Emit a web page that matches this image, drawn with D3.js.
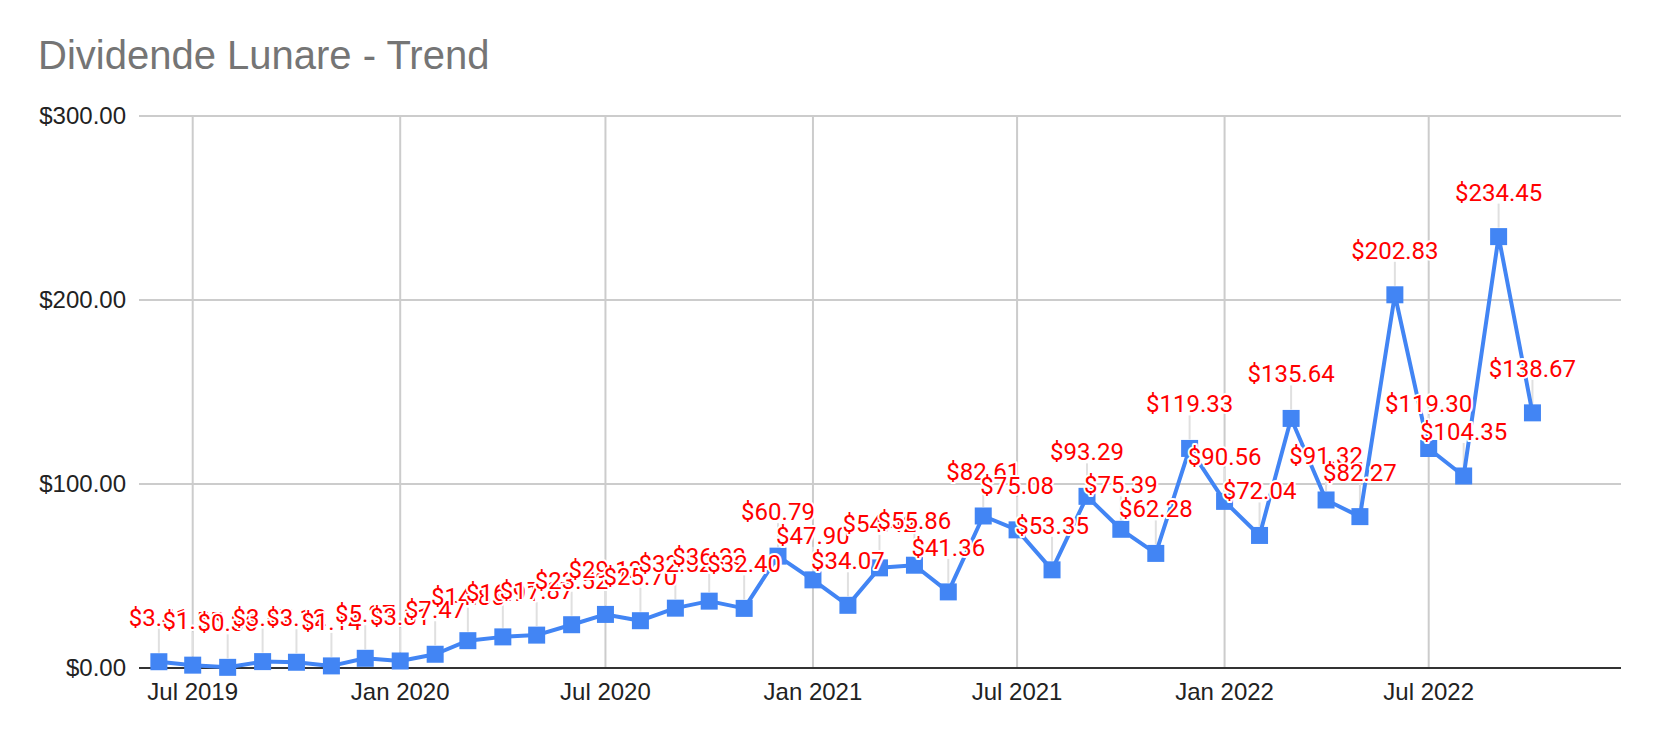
<!DOCTYPE html>
<html><head><meta charset="utf-8">
<script src="https://cdn.jsdelivr.net/npm/d3@7"></script>
<style>html,body{margin:0;padding:0;background:#fff;} svg{display:block}</style>
</head><body>
<svg id="chart" width="1658" height="742"></svg>
<script>
const chartTitle = "Dividende Lunare - Trend";
const months = ["2019-06","2019-07","2019-08","2019-09","2019-10","2019-11","2019-12",
  "2020-01","2020-02","2020-03","2020-04","2020-05","2020-06","2020-07","2020-08","2020-09","2020-10","2020-11","2020-12",
  "2021-01","2021-02","2021-03","2021-04","2021-05","2021-06","2021-07","2021-08","2021-09","2021-10","2021-11","2021-12",
  "2022-01","2022-02","2022-03","2022-04","2022-05","2022-06","2022-07","2022-08","2022-09","2022-10"];
const dividends = [3.41,1.55,0.36,3.47,3.12,1.14,5.27,
  3.81,7.47,14.85,16.91,17.87,23.52,29.12,25.70,32.52,36.33,32.40,60.79,
  47.90,34.07,54.42,55.86,41.36,82.61,75.08,53.35,93.29,75.39,62.28,119.33,
  90.56,72.04,135.64,91.32,82.27,202.83,119.30,104.35,234.45,138.67];
const yTickValues = [0,100,200,300];
const xTickMonths = ["2019-07","2020-01","2020-07","2021-01","2021-07","2022-01","2022-07"];

const parseMonth = d3.utcParse("%Y-%m");
const data = months.map((m,i)=>({date:parseMonth(m), value:dividends[i]}));

const svg = d3.select("#chart");
const plotLeft = 139, plotRight = 1621, plotTop = 116, plotBottom = 668;

const x = d3.scaleUtc()
  .domain([parseMonth("2019-07"), parseMonth("2022-07")])
  .range([192.7, 1428.7]);
const y = d3.scaleLinear().domain([0,300]).range([plotBottom, plotTop]);

svg.append("rect").attr("width",1658).attr("height",742).attr("fill","#fff");

// title
svg.append("text").attr("x",38).attr("y",69)
  .attr("font-family","'Liberation Sans', Arial, sans-serif")
  .attr("font-size",40).attr("fill","#757575").text(chartTitle);

// horizontal gridlines
svg.append("g").selectAll("line").data(yTickValues.filter(v=>v>0)).join("line")
  .attr("x1",plotLeft).attr("x2",plotRight)
  .attr("y1",d=>y(d)).attr("y2",d=>y(d))
  .attr("stroke","#cccccc").attr("stroke-width",2);

// vertical gridlines
const xTickDates = xTickMonths.map(parseMonth);
svg.append("g").selectAll("line").data(xTickDates).join("line")
  .attr("x1",d=>x(d)).attr("x2",d=>x(d))
  .attr("y1",plotTop).attr("y2",plotBottom)
  .attr("stroke","#cccccc").attr("stroke-width",2);

// y tick labels
const fmtAxis = d3.format("$,.2f");
svg.append("g").selectAll("text").data(yTickValues).join("text")
  .attr("x",126).attr("y",d=>y(d)+7.5)
  .attr("text-anchor","end")
  .attr("font-family","'Liberation Sans', Arial, sans-serif")
  .attr("font-size",24).attr("fill","#222")
  .text(d=>fmtAxis(d));

// x tick labels
const fmtMonth = d3.utcFormat("%b %Y");
svg.append("g").selectAll("text").data(xTickDates).join("text")
  .attr("x",d=>x(d)).attr("y",699.5)
  .attr("text-anchor","middle")
  .attr("font-family","'Liberation Sans', Arial, sans-serif")
  .attr("font-size",24).attr("fill","#222")
  .text(d=>fmtMonth(d));

// leader lines
svg.append("g").selectAll("line").data(data).join("line")
  .attr("x1",d=>x(d.date)).attr("x2",d=>x(d.date))
  .attr("y1",d=>y(d.value)-9).attr("y2",d=>y(d.value)-33)
  .attr("stroke","#e0e0e0").attr("stroke-width",2);

// axis baseline
svg.append("line").attr("x1",plotLeft).attr("x2",plotRight)
  .attr("y1",plotBottom).attr("y2",plotBottom)
  .attr("stroke","#333").attr("stroke-width",2.2);

// line
svg.append("path").datum(data)
  .attr("fill","none").attr("stroke","#4285f4").attr("stroke-width",4)
  .attr("stroke-linejoin","round")
  .attr("d", d3.line().x(d=>x(d.date)).y(d=>y(d.value)));

// markers
const ms = 17;
svg.append("g").selectAll("rect").data(data).join("rect")
  .attr("x",d=>x(d.date)-ms/2).attr("y",d=>y(d.value)-ms/2)
  .attr("width",ms).attr("height",ms).attr("fill","#4285f4");

// data labels
const fmtLabel = d3.format("$,.2f");
const lg = svg.append("g");
data.forEach(d=>{
  lg.append("text")
    .attr("x",x(d.date)).attr("y",y(d.value)-36)
    .attr("text-anchor","middle")
    .attr("font-family","Roboto, 'Noto Sans', sans-serif")
    .attr("font-size",24).attr("fill","#ff0000")
    .attr("stroke","#fff").attr("stroke-width",4).attr("stroke-linejoin","round")
    .attr("paint-order","stroke")
    .text(fmtLabel(d.value));
});
</script>
</body></html>
